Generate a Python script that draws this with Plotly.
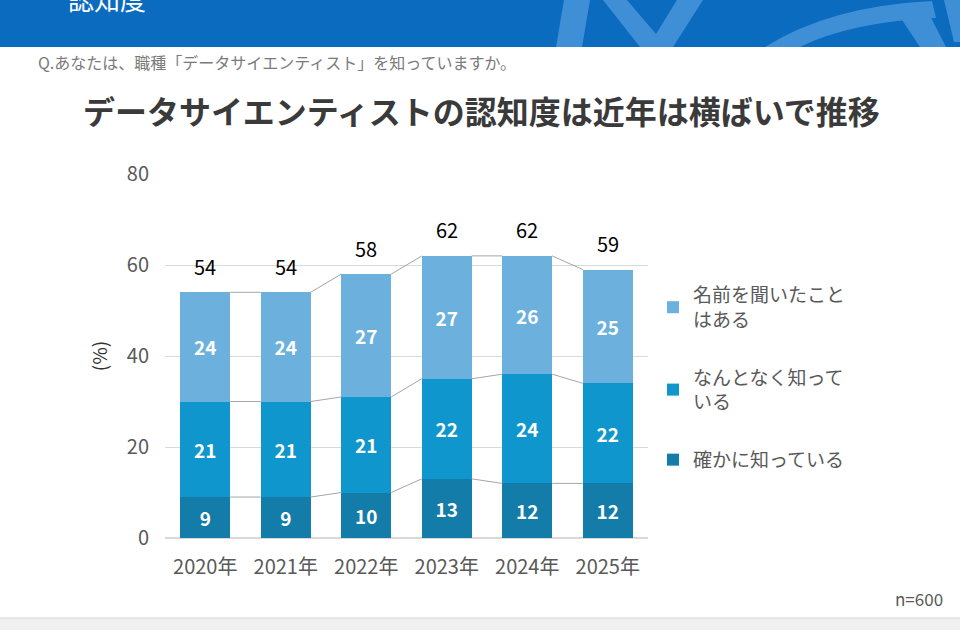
import plotly.graph_objects as go

years = ["2020年", "2021年", "2022年", "2023年", "2024年", "2025年"]
series_names = ["確かに知っている", "なんとなく知って<br>いる", "名前を聞いたこと<br>はある"]
know_well = [9, 9, 10, 13, 12, 12]
know_some = [21, 21, 21, 22, 24, 22]
heard_name = [24, 24, 27, 27, 26, 25]
totals = [54, 54, 58, 62, 62, 59]
colors = ["#137CA8", "#0F96CC", "#6CB0DD"]
legend_ranks = [3, 2, 1]

FONT = "Noto Sans CJK JP, Noto Sans, sans-serif"
W, H = 960, 630
L, R, T, B = 165, 648, 174, 538
BW = 0.62


def P(x, y):
    return (x - L) / (R - L), (B - y) / (B - T)


fig = go.Figure()
xs = list(range(len(years)))
vals = [know_well, know_some, heard_name]
for i, (name, v, c) in enumerate(zip(series_names, vals, colors)):
    fig.add_trace(go.Bar(
        x=xs, y=v, name=name, marker=dict(color=c, line=dict(width=0)),
        width=BW, text=v, texttemplate="<b>%{text}</b>", textposition="inside",
        insidetextanchor="middle", textangle=0,
        textfont=dict(color="white", size=19, family=FONT),
        legendgroup=str(i), legendrank=legend_ranks[i], hoverinfo="skip"))

# series connector lines
cum = []
run = [0] * len(years)
for v in vals:
    run = [a + b for a, b in zip(run, v)]
    cum.append(run)
lx, ly = [], []
for level in cum:
    for i in range(len(years) - 1):
        lx += [i + BW / 2, i + 1 - BW / 2, None]
        ly += [level[i], level[i + 1], None]
fig.add_trace(go.Scatter(x=lx, y=ly, mode="lines", line=dict(color="#a6a6a6", width=1),
                         showlegend=False, hoverinfo="skip"))

for i, t in enumerate(totals):
    fig.add_annotation(x=i, y=t, text=str(t), showarrow=False, yanchor="middle", yshift=26,
                       font=dict(size=20, color="#000000", family=FONT))

shapes = []
# header band
x0, y0 = P(0, -5)
x1, y1 = P(960, 47)
shapes.append(dict(type="rect", xref="paper", yref="paper", x0=x0, y0=y1, x1=x1, y1=y0,
                   fillcolor="#0A6BBF", line=dict(width=0), layer="below"))


def path(items):
    s = ""
    for item in items:
        if isinstance(item, str):
            s += item + " "
        else:
            px, py = P(*item)
            s += f"{px:.4f},{py:.4f} "
    return s


deco = "#3F8FD6"
deco_paths = [
    ["M", (556, 47), "L", (582, 47), "L", (590, 0), "L", (564, 0), "Z"],
    ["M", (603, 0), "L", (627, 0), "L", (656, 34), "L", (677, 0), "L", (703, 0),
     "L", (673, 47), "L", (640, 47), "Z"],
    ["M", (765, 47), "Q", (830, 6), (932, 1), "L", (936, 18), "Q", (850, 22), (800, 47), "Z"],
    ["M", (898, 14), "L", (926, 8), "L", (946, 47), "L", (920, 47), "Z"],
    ["M", (944, 0), "L", (960, 0), "L", (960, 42), "L", (954, 42), "Z"],
]
for p in deco_paths:
    shapes.append(dict(type="path", xref="paper", yref="paper", path=path(p),
                       fillcolor=deco, line=dict(width=0), layer="below"))

# bottom band
bx0, by0 = P(0, 618)
bx1, by1 = P(962, 640)
shapes.append(dict(type="rect", xref="paper", yref="paper", x0=P(-2, 0)[0], y0=by1, x1=bx1, y1=by0,
                   fillcolor="#f0f0f0", line=dict(color="#d4d4d4", width=1), layer="below"))

fig.update_layout(shapes=shapes)

hx, hy = P(66, -1)
fig.add_annotation(xref="paper", yref="paper", x=hx, y=hy, text="認知度", showarrow=False,
                   xanchor="left", yanchor="middle", font=dict(size=26, color="white", family=FONT))
qx, qy = P(36, 62)
fig.add_annotation(xref="paper", yref="paper", x=qx, y=qy,
                   text="Q.あなたは、職種「データサイエンティスト」を知っていますか。",
                   showarrow=False, xanchor="left", yanchor="middle",
                   font=dict(size=16, color="#7a7a7a", family=FONT))
tx, ty = P(481, 110)
fig.add_annotation(xref="paper", yref="paper", x=tx, y=ty,
                   text="<b>データサイエンティストの認知度は近年は横ばいで推移</b>",
                   showarrow=False, xanchor="center", yanchor="middle",
                   font=dict(size=32, color="#3a3a3a", family=FONT))
nx, ny = P(945, 598)
fig.add_annotation(xref="paper", yref="paper", x=nx, y=ny, text="n=600", showarrow=False,
                   xanchor="right", yanchor="middle", font=dict(size=17, color="#595959", family=FONT))

lgx, lgy = P(653, 276)
fig.update_layout(
    width=W, height=H,
    margin=dict(l=L, r=W - R, t=T, b=H - B, pad=0),
    paper_bgcolor="white", plot_bgcolor="white",
    barmode="stack", bargap=0.38,
    font=dict(family=FONT, color="#595959"),
    xaxis=dict(range=[-0.5, len(years) - 0.5], tickvals=xs, ticktext=years,
               tickfont=dict(size=20, color="#595959"), showgrid=False, zeroline=False,
               showline=False, ticks="", ticklabelstandoff=15, fixedrange=True),
    yaxis=dict(range=[0, 80], dtick=20, tickfont=dict(size=20, color="#595959"),
               gridcolor="#d9d9d9", gridwidth=1, zeroline=True, zerolinecolor="#d9d9d9",
               showline=False, ticks="", ticklabelstandoff=15,
               title=dict(text="(%)", font=dict(size=19, color="#333333"), standoff=14)),
    legend=dict(x=lgx, y=lgy, xanchor="left", yanchor="top", traceorder="grouped",
                tracegroupgap=30, font=dict(size=19, color="#595959", family=FONT),
                itemwidth=30, bgcolor="rgba(0,0,0,0)"),
    showlegend=True,
)

fig.write_html("out.html")
